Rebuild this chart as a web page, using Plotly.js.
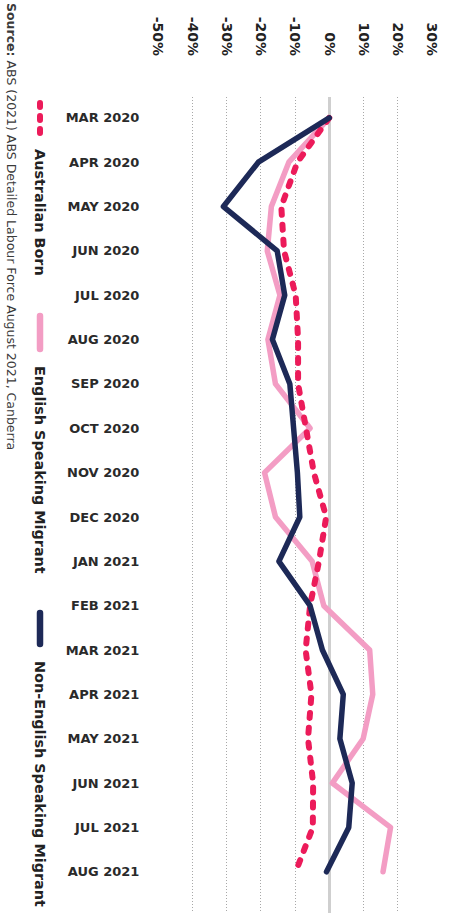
<!DOCTYPE html>
<html>
<head>
<meta charset="utf-8">
<script src="https://cdn.plot.ly/plotly-3.0.1.min.js"></script>
<style>
  html, body { margin: 0; padding: 0; background: #fff; }
  #chart { width: 450px; height: 913px; }
  .js-line { stroke-linecap: round !important; stroke-linejoin: round !important; }
  .shapelayer path { stroke-linecap: round !important; }
</style>
</head>
<body>
<div id="chart"></div>
<script>
const months = ["MAR 2020","APR 2020","MAY 2020","JUN 2020","JUL 2020","AUG 2020","SEP 2020","OCT 2020","NOV 2020","DEC 2020","JAN 2021","FEB 2021","MAR 2021","APR 2021","MAY 2021","JUN 2021","JUL 2021","AUG 2021"];
const australianBorn = [0, -9.3, -14, -13.2, -9.8, -9.1, -9.1, -6.9, -4.5, -0.9, -3, -5.6, -6.9, -5.2, -6.2, -4.7, -4.8, -9.8];
const englishSpeaking = [0, -11.8, -16.9, -18.1, -14.4, -17.9, -15.7, -5.6, -18.9, -15.7, -5, -1.6, 11.8, 12.7, 9.9, 0.9, 17.9, 15.7];
const nonEnglishSpeaking = [0, -20.7, -30.9, -15.2, -13, -16.6, -11.5, -10.3, -9.3, -8.6, -14.7, -5.6, -2, 4.1, 3.1, 6.7, 5.7, -0.8];
const seriesNames = ["Australian Born", "English Speaking Migrant", "Non-English Speaking Migrant"];
const xTicks = [-50, -40, -30, -20, -10, 0, 10, 20, 30];
const sourceText = "<b>Source:</b> ABS (2021) ABS Detailed Labour Force August 2021, Canberra";

const C_AUS = "#EC1B5A", C_ENG = "#F39DC4", C_NON = "#1D2957";
const font = "DejaVu Sans, sans-serif";

const traces = [
  {x: englishSpeaking, y: months, type: "scatter", mode: "lines", name: seriesNames[1],
   line: {color: C_ENG, width: 5.5}},
  {x: australianBorn, y: months, type: "scatter", mode: "lines", name: seriesNames[0],
   line: {color: C_AUS, width: 6, dash: "5px,10px"}},
  {x: nonEnglishSpeaking, y: months, type: "scatter", mode: "lines", name: seriesNames[2],
   line: {color: C_NON, width: 5.5}}
];

const L = 158, R = 18, T = 97, B = 0, W = 450, H = 913;
const px = v => (v - L) / (W - L - R);
const py = v => 1 - (v - T) / (H - T - B);

const legendFont = {family: font, size: 14.4, color: "#222"};
const note = (text, x, y, f) => ({text, xref: "paper", yref: "paper", x: px(x), y: py(y),
  xanchor: "center", yanchor: "middle", textangle: 90, showarrow: false, font: f});

const layout = {
  width: W, height: H,
  margin: {l: L, r: R, t: T, b: B, pad: 0},
  paper_bgcolor: "#fff", plot_bgcolor: "#fff",
  showlegend: false,
  font: {family: font, color: "#222"},
  xaxis: {
    side: "top", range: [-50, 30], tickvals: xTicks, ticktext: xTicks.map(v => v + "%"),
    tickangle: 90, tickfont: {family: font, size: 14, color: "#222", weight: 700},
    ticks: "outside", ticklen: 35, tickcolor: "rgba(0,0,0,0)",
    showgrid: true, gridcolor: "#a8a8a8", gridwidth: 1, griddash: "1px,2px",
    zeroline: true, zerolinecolor: "#cfcfcf", zerolinewidth: 3,
    showline: false, fixedrange: true
  },
  yaxis: {
    type: "category", range: [17.93, -0.47],
    tickfont: {family: font, size: 13, color: "#2a2a2a", weight: 700},
    ticks: "outside", ticklen: 15, tickcolor: "rgba(0,0,0,0)",
    showgrid: false, zeroline: false, showline: false, fixedrange: true
  },
  shapes: [
    {type: "line", xref: "paper", yref: "paper", x0: px(40), x1: px(40), y0: py(103), y1: py(134),
     line: {color: C_AUS, width: 6, dash: "4px,9px"}},
    {type: "line", xref: "paper", yref: "paper", x0: px(40), x1: px(40), y0: py(316), y1: py(349),
     line: {color: C_ENG, width: 6.5}},
    {type: "line", xref: "paper", yref: "paper", x0: px(40), x1: px(40), y0: py(613), y1: py(644),
     line: {color: C_NON, width: 6.5}}
  ],
  annotations: [
    note("<b>" + seriesNames[0] + "</b>", 40, 212, legendFont),
    note("<b>" + seriesNames[1] + "</b>", 40, 470, legendFont),
    note("<b>" + seriesNames[2] + "</b>", 40, 784, legendFont),
    note(sourceText, 12, 226, {family: font, size: 12.5, color: "#3a3a3a"})
  ]
};

Plotly.newPlot("chart", traces, layout, {displayModeBar: false, staticPlot: true});
</script>
</body>
</html>
